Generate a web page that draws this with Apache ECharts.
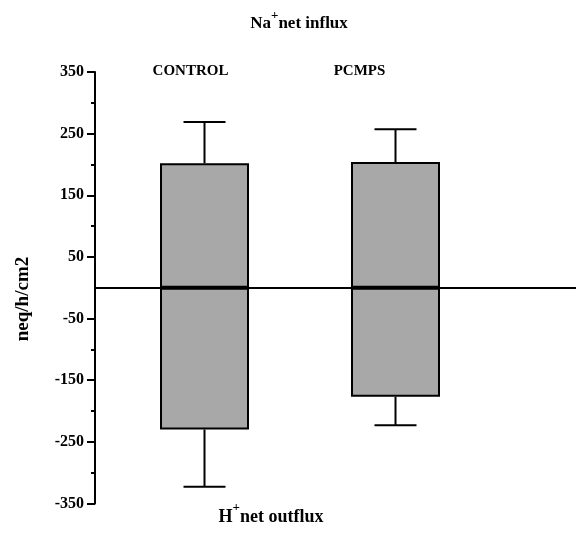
<!DOCTYPE html>
<html>
<head>
<meta charset="utf-8">
<title>Na+ influx and H+ outflux</title>
<script src="https://cdn.jsdelivr.net/npm/echarts@6/dist/echarts.min.js"></script>
<style>
  html, body { margin: 0; padding: 0; background: #fff; }
  #chart { width: 576px; height: 535px; }
</style>
</head>
<body>
<div id="chart"></div>
<script>
// Groups and their measured fluxes (neq/h/cm2), mean and error
const categories = ['CONTROL', 'PCMPS'];
const influx = [202, 204];          // Na+ net influx
const influxErr = [67, 53];
const outflux = [-230, -177];       // H+ net outflux
const outfluxErr = [93, 46];

// Axis tick values
const yMajorTicks = [-350, -250, -150, -50, 50, 150, 250, 350];
const yMinorTicks = [-300, -200, -100, 100, 200, 300];

const FONT = '"Liberation Serif", "Times New Roman", serif';
const BAR_FILL = '#a8a8a8';

const chart = echarts.init(document.getElementById('chart'), null, { renderer: 'canvas' });

// Categories sit at x = 1, 2 on a hidden value axis
const xPos = categories.map((c, i) => i + 1);

function errorBar(params, api) {
  const x = api.value(0);
  const p0 = api.coord([x, api.value(1)]);
  const p1 = api.coord([x, api.value(2)]);
  const half = 21;
  const style = { stroke: '#000', lineWidth: 2 };
  return {
    type: 'group',
    children: [
      { type: 'line', shape: { x1: p0[0], y1: p0[1], x2: p1[0], y2: p1[1] }, style },
      { type: 'line', shape: { x1: p1[0] - half, y1: p1[1], x2: p1[0] + half, y2: p1[1] }, style }
    ]
  };
}

const boldText = { fontFamily: FONT, fontWeight: 'bold', fill: '#000' };

chart.setOption({
  animation: false,
  backgroundColor: '#fff',
  grid: { left: 95, right: 0, top: 72, bottom: 31.5 },
  xAxis: {
    type: 'value',
    min: 0.4267,
    max: 2.945,
    axisLine: { onZero: true, lineStyle: { color: '#000', width: 2 } },
    axisTick: { show: false },
    axisLabel: { show: false },
    splitLine: { show: false }
  },
  yAxis: [
    {
      type: 'value',
      min: -350,
      max: 350,
      interval: 50,
      axisLine: { show: true, onZero: false, lineStyle: { color: '#000', width: 2 } },
      axisTick: { show: true, length: 8, customValues: yMajorTicks, lineStyle: { color: '#000', width: 2 } },
      axisLabel: {
        customValues: yMajorTicks,
        margin: 11,
        color: '#000',
        fontFamily: FONT,
        fontWeight: 'bold',
        fontSize: 16
      },
      splitLine: { show: false }
    },
    {
      type: 'value',
      min: -350,
      max: 350,
      interval: 50,
      position: 'left',
      axisLine: { show: false, onZero: false },
      axisTick: { show: true, length: 4, customValues: yMinorTicks, lineStyle: { color: '#000', width: 2 } },
      axisLabel: { show: false },
      splitLine: { show: false }
    }
  ],
  series: [
    {
      name: 'Na+ net influx',
      type: 'bar',
      barWidth: 89,
      barGap: '-100%',
      itemStyle: { color: BAR_FILL, borderColor: '#000', borderWidth: 2 },
      data: influx.map((v, i) => [xPos[i], v]),
      z: 2
    },
    {
      name: 'H+ net outflux',
      type: 'bar',
      barWidth: 89,
      barGap: '-100%',
      itemStyle: { color: BAR_FILL, borderColor: '#000', borderWidth: 2 },
      data: outflux.map((v, i) => [xPos[i], v]),
      z: 2
    },
    {
      type: 'custom',
      renderItem: errorBar,
      data: influx.map((v, i) => [xPos[i], v, v + influxErr[i]]),
      z: 3
    },
    {
      type: 'custom',
      renderItem: errorBar,
      data: outflux.map((v, i) => [xPos[i], v, v - outfluxErr[i]]),
      z: 3
    }
  ]
});

// Group names above the bars, placed from the axis scale
const labelShift = [-14, -36];
const groupLabels = categories.map((name, i) => {
  const px = chart.convertToPixel({ xAxisIndex: 0 }, xPos[i]);
  return {
    type: 'text',
    x: px + labelShift[i],
    y: 71,
    style: Object.assign({ text: name, fontSize: 15, align: 'center', verticalAlign: 'middle' }, boldText)
  };
});

const supRich = {
  m: { fontFamily: FONT, fontWeight: 'bold', fontSize: 17, lineHeight: 30 },
  s: { fontFamily: FONT, fontWeight: 'bold', fontSize: 13, lineHeight: 12, verticalAlign: 'top' }
};
const supRichLarge = {
  m: { fontFamily: FONT, fontWeight: 'bold', fontSize: 18, lineHeight: 32 },
  s: { fontFamily: FONT, fontWeight: 'bold', fontSize: 13, lineHeight: 12, verticalAlign: 'top' }
};

chart.setOption({
  graphic: [
    {
      type: 'text',
      x: 299,
      y: 24,
      style: { text: '{m|Na}{s|+}{m|net influx}', rich: supRich, align: 'center', verticalAlign: 'middle', fill: '#000' }
    },
    {
      type: 'text',
      x: 271,
      y: 517,
      style: { text: '{m|H}{s|+}{m|net outflux}', rich: supRichLarge, align: 'center', verticalAlign: 'middle', fill: '#000' }
    },
    {
      type: 'text',
      x: 23,
      y: 299,
      rotation: Math.PI / 2,
      style: Object.assign({ text: 'neq/h/cm2', fontSize: 19, align: 'center', verticalAlign: 'middle' }, boldText)
    }
  ].concat(groupLabels)
});
</script>
</body>
</html>
